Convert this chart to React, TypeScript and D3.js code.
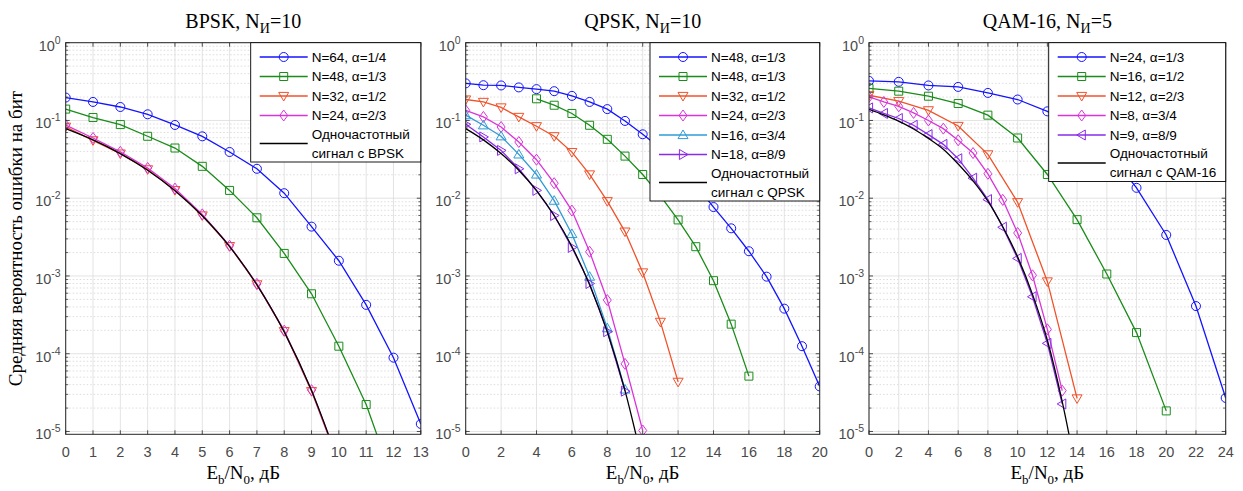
import React from 'react';
import * as d3 from 'd3';

// ---------- DATA ----------
const yMajorTicks = [1, 0.1, 0.01, 1e-3, 1e-4, 1e-5];
const yTickExp = ['0', '-1', '-2', '-3', '-4', '-5'];
const yMinorMult = [2, 3, 4, 5, 6, 7, 8, 9];

// Panel 1: BPSK
const bpskTicks = [0, 1, 2, 3, 4, 5, 6, 7, 8, 9, 10, 11, 12, 13];
const bpskX64 = [0, 1, 2, 3, 4, 5, 6, 7, 8, 9, 10, 11, 12, 13];
const bpskN64 = [0.197, 0.173, 0.149, 0.12, 0.0875, 0.0625, 0.0393, 0.0239, 0.0116, 0.00431, 0.00157, 4.25e-4, 8.9e-5, 1.25e-5];
const bpskX48 = [0, 1, 2, 3, 4, 5, 6, 7, 8, 9, 10, 11, 12];
const bpskN48 = [0.14, 0.109, 0.0885, 0.0626, 0.0442, 0.0257, 0.0126, 0.0056, 0.00195, 5.9e-4, 1.25e-4, 2.22e-5, 2.3e-6];
const bpskX32 = [0, 1, 2, 3, 4, 5, 6, 7, 8, 9, 10];
const bpskN32 = [0.083, 0.0555, 0.0375, 0.0235, 0.0127, 0.006, 0.00242, 7.8e-4, 1.95e-4, 3.3e-5, 3.9e-6];
const bpskX24 = [0, 1, 2, 3, 4, 5, 6, 7, 8, 9, 10];
const bpskN24 = [0.087, 0.0595, 0.0395, 0.0245, 0.0133, 0.0062, 0.00245, 7.9e-4, 1.98e-4, 3.4e-5, 4.0e-6];
const bpskThX = [0, 1, 2, 3, 4, 5, 6, 7, 8, 9, 10];
const bpskTh = [0.0786, 0.0563, 0.0375, 0.0229, 0.0125, 0.00595, 0.00239, 7.7e-4, 1.91e-4, 3.36e-5, 3.9e-6];

// Panel 2: QPSK
const qpskTicks = [0, 2, 4, 6, 8, 10, 12, 14, 16, 18, 20];
const qpskXa = [0, 1, 2, 3, 4, 5, 6, 7, 8, 9, 10, 11, 12, 13, 14, 15, 16, 17, 18, 19, 20];
const qpskN48a = [0.3, 0.284, 0.282, 0.266, 0.253, 0.238, 0.207, 0.173, 0.14, 0.0986, 0.0664, 0.044, 0.027, 0.0148, 0.0077, 0.0041, 0.00208, 9.8e-4, 3.8e-4, 1.25e-4, 3.8e-5];
const qpskXb = [4, 5, 6, 7, 8, 9, 10, 11, 12, 13, 14, 15, 16];
const qpskN48b = [0.19, 0.157, 0.123, 0.0867, 0.0572, 0.0348, 0.0202, 0.0107, 0.00526, 0.00238, 8.7e-4, 2.4e-4, 5.15e-5];
const qpskX32 = [0, 1, 2, 3, 4, 5, 6, 7, 8, 9, 10, 11, 12];
const qpskN32 = [0.186, 0.173, 0.147, 0.111, 0.0842, 0.0626, 0.0392, 0.0202, 0.00915, 0.00372, 0.00111, 2.57e-4, 4.35e-5];
const qpskX24 = [0, 1, 2, 3, 4, 5, 6, 7, 8, 9, 10];
const qpskN24 = [0.135, 0.111, 0.0824, 0.0528, 0.0313, 0.0156, 0.00694, 0.00205, 4.9e-4, 7.4e-5, 1.03e-5];
const qpskX16 = [0, 1, 2, 3, 4, 5, 6, 7, 8, 9];
const qpskN16 = [0.117, 0.0867, 0.0626, 0.0366, 0.0202, 0.0093, 0.00347, 9.8e-4, 2.13e-4, 3.47e-5];
const qpskX18 = [0, 1, 2, 3, 4, 5, 6, 7, 8, 9];
const qpskN18 = [0.0893, 0.0614, 0.0412, 0.0239, 0.0126, 0.006, 0.00233, 8.0e-4, 1.92e-4, 3.3e-5];
const qpskThX = [0, 1, 2, 3, 4, 5, 6, 7, 8, 9, 10];
const qpskTh = [0.0786, 0.0563, 0.0375, 0.0229, 0.0125, 0.00595, 0.00239, 7.7e-4, 1.91e-4, 3.36e-5, 3.9e-6];

// Panel 3: QAM-16
const qamTicks = [0, 2, 4, 6, 8, 10, 12, 14, 16, 18, 20, 22, 24];
const qamX24 = [0, 2, 4, 6, 8, 10, 12, 14, 16, 18, 20, 22, 24];
const qamN24 = [0.323, 0.314, 0.282, 0.27, 0.226, 0.186, 0.131, 0.085, 0.042, 0.0136, 0.00337, 4.1e-4, 2.7e-5];
const qamX16 = [0, 2, 4, 6, 8, 10, 12, 14, 16, 18, 20];
const qamN16 = [0.258, 0.238, 0.205, 0.165, 0.117, 0.0595, 0.0202, 0.0053, 0.00106, 1.87e-4, 1.84e-5];
const qamX12 = [0, 2, 4, 6, 8, 10, 12, 14];
const qamN12 = [0.211, 0.177, 0.135, 0.085, 0.0366, 0.00888, 8.5e-4, 2.66e-5];
const qamX8 = [0, 1, 2, 3, 4, 5, 6, 7, 8, 9, 10, 11, 12, 13];
const qamN8 = [0.201, 0.173, 0.152, 0.125, 0.1, 0.0785, 0.0556, 0.0381, 0.0206, 0.00953, 0.00357, 0.00102, 2.06e-4, 3.35e-5];
const qamX9 = [0, 1, 2, 3, 4, 5, 6, 7, 8, 9, 10, 11, 12, 13];
const qamN9 = [0.145, 0.123, 0.106, 0.0867, 0.0658, 0.0493, 0.0322, 0.0181, 0.0096, 0.00423, 0.00168, 5.4e-4, 1.36e-4, 2.26e-5];
const qamThX = [0, 1, 2, 3, 4, 5, 6, 7, 8, 9, 10, 11, 12, 13, 14];
const qamTh = [0.139, 0.118, 0.098, 0.0777, 0.0588, 0.0426, 0.0275, 0.0167, 0.00915, 0.00429, 0.00176, 5.8e-4, 1.49e-4, 2.42e-5, 2.7e-6];

// ---------- STYLE / LAYOUT ----------
const W = 1243;
const H = 491;
const Y_TOP = 42.7;
const Y_BOT = 434.3;
const Y_MIN = 9.2e-6;
const C_BLUE = '#1414ff';
const C_GREEN = '#1a8c1a';
const C_RED = '#f0522a';
const C_MAG = '#d936d9';
const C_CYAN = '#2f9bd6';
const C_PURP = '#8a2be8';
const AX = '#262626';
const TICKC = '#4a4a4a';
const SANS = '"Liberation Sans", Arial, Helvetica, sans-serif';
const SERIF = '"Liberation Serif", "Times New Roman", serif';

type Series = { label: string; color: string; marker: string; x: number[]; y: number[] };
type PanelCfg = {
  id: string; title: string; ni: string; x0: number; x1: number; xmax: number; ticks: number[];
  series: Series[]; thX: number[]; th: number[]; thLabel: string; legX: number; legW: number;
};

const panels: PanelCfg[] = [
  {
    id: 'p1', title: 'BPSK, N', ni: '=10', x0: 65.7, x1: 420.8, xmax: 13, ticks: bpskTicks,
    series: [
      { label: 'N=64, α=1/4', color: C_BLUE, marker: 'o', x: bpskX64, y: bpskN64 },
      { label: 'N=48, α=1/3', color: C_GREEN, marker: 's', x: bpskX48, y: bpskN48 },
      { label: 'N=32, α=1/2', color: C_RED, marker: 'v', x: bpskX32, y: bpskN32 },
      { label: 'N=24, α=2/3', color: C_MAG, marker: 'd', x: bpskX24, y: bpskN24 },
    ],
    thX: bpskThX, th: bpskTh, thLabel: 'сигнал с BPSK', legX: 250.7, legW: 170.1,
  },
  {
    id: 'p2', title: 'QPSK, N', ni: '=10', x0: 465.7, x1: 819.7, xmax: 20, ticks: qpskTicks,
    series: [
      { label: 'N=48, α=1/3', color: C_BLUE, marker: 'o', x: qpskXa, y: qpskN48a },
      { label: 'N=48, α=1/3', color: C_GREEN, marker: 's', x: qpskXb, y: qpskN48b },
      { label: 'N=32, α=1/2', color: C_RED, marker: 'v', x: qpskX32, y: qpskN32 },
      { label: 'N=24, α=2/3', color: C_MAG, marker: 'd', x: qpskX24, y: qpskN24 },
      { label: 'N=16, α=3/4', color: C_CYAN, marker: '^', x: qpskX16, y: qpskN16 },
      { label: 'N=18, α=8/9', color: C_PURP, marker: '>', x: qpskX18, y: qpskN18 },
    ],
    thX: qpskThX, th: qpskTh, thLabel: 'сигнал с QPSK', legX: 650, legW: 169.7,
  },
  {
    id: 'p3', title: 'QAM-16, N', ni: '=5', x0: 869, x1: 1225.7, xmax: 24, ticks: qamTicks,
    series: [
      { label: 'N=24, α=1/3', color: C_BLUE, marker: 'o', x: qamX24, y: qamN24 },
      { label: 'N=16, α=1/2', color: C_GREEN, marker: 's', x: qamX16, y: qamN16 },
      { label: 'N=12, α=2/3', color: C_RED, marker: 'v', x: qamX12, y: qamN12 },
      { label: 'N=8, α=3/4', color: C_MAG, marker: 'd', x: qamX8, y: qamN8 },
      { label: 'N=9, α=8/9', color: C_PURP, marker: '<', x: qamX9, y: qamN9 },
    ],
    thX: qamThX, th: qamTh, thLabel: 'сигнал с QAM-16', legX: 1048.7, legW: 177,
  },
];

function markerPath(m: string): string {
  switch (m) {
    case 'o': return 'M4.5,0A4.5,4.5 0 1,1 -4.5,0A4.5,4.5 0 1,1 4.5,0Z';
    case 's': return 'M-4,-4H4V4H-4Z';
    case 'v': return 'M-5,-3.6H5L0,5Z';
    case '^': return 'M-5,3.6H5L0,-5Z';
    case '>': return 'M-3.6,-5V5L5,0Z';
    case '<': return 'M3.6,-5V5L-5,0Z';
    case 'd': return 'M0,-5.5L4,0L0,5.5L-4,0Z';
    default: return '';
  }
}

function Panel({ cfg }: { cfg: PanelCfg }) {
  const x = d3.scaleLinear().domain([0, cfg.xmax]).range([cfg.x0, cfg.x1]);
  const y = d3.scaleLog().domain([Y_MIN, 1]).range([Y_BOT, Y_TOP]);
  const line = d3.line<[number, number]>().x((d) => x(d[0])).y((d) => y(d[1]));
  const smooth = d3.line<[number, number]>().x((d) => x(d[0])).y((d) => y(d[1])).curve(d3.curveMonotoneX);
  const minor: number[] = [];
  yMajorTicks.forEach((t) => {
    if (t < 1) yMinorMult.forEach((m) => minor.push(t * m));
  });
  const minorIn = minor.filter((v) => v >= Y_MIN && v <= 1);
  const minorAll = [...minorIn];
  yMinorMult.forEach((m) => { const v = 1e-6 * m; if (v >= Y_MIN) minorAll.push(v); });
  const cx = (cfg.x0 + cfg.x1) / 2;
  const cy = (Y_TOP + Y_BOT) / 2;
  const rowY = (i: number) => Y_TOP + 14.3 + i * 19.5;
  const n = cfg.series.length;
  const legH = 14.3 + (n + 1) * 19.5 + 7.5;
  const thPts: [number, number][] = cfg.thX.map((v, i) => [v, cfg.th[i]]);
  return (
    <g>
      <defs>
        <clipPath id={`clip-${cfg.id}`}>
          <rect x={cfg.x0} y={Y_TOP} width={cfg.x1 - cfg.x0} height={Y_BOT - Y_TOP} />
        </clipPath>
      </defs>
      {/* grid */}
      <g>
        {minorAll.map((v, i) => (
          <line key={'mg' + i} x1={cfg.x0} x2={cfg.x1} y1={y(v)} y2={y(v)} stroke="#cfcfcf" strokeWidth={0.7} strokeDasharray="1.5,2" />
        ))}
        {cfg.ticks.map((t) => (
          <line key={'gx' + t} x1={x(t)} x2={x(t)} y1={Y_TOP} y2={Y_BOT} stroke="#dcdcdc" strokeWidth={0.8} />
        ))}
        {yMajorTicks.map((t) => (
          <line key={'gy' + t} x1={cfg.x0} x2={cfg.x1} y1={y(t)} y2={y(t)} stroke="#dcdcdc" strokeWidth={0.8} />
        ))}
      </g>
      {/* data */}
      <g clipPath={`url(#clip-${cfg.id})`}>
        {cfg.series.map((s, si) => {
          const pts: [number, number][] = s.x.map((v, i) => [v, s.y[i]]);
          return (
            <g key={'s' + si}>
              <path d={line(pts) || ''} fill="none" stroke={s.color} strokeWidth={1.3} />
              {pts.map((p, i) => (
                <path key={i} d={markerPath(s.marker)} transform={`translate(${x(p[0])},${y(p[1])})`} fill="none" stroke={s.color} strokeWidth={1} />
              ))}
            </g>
          );
        })}
        <path d={smooth(thPts) || ''} fill="none" stroke="#000" strokeWidth={1.3} />
      </g>
      {/* axes box */}
      <rect x={cfg.x0} y={Y_TOP} width={cfg.x1 - cfg.x0} height={Y_BOT - Y_TOP} fill="none" stroke={AX} strokeWidth={1} />
      {/* ticks */}
      {cfg.ticks.map((t) => (
        <g key={'tx' + t}>
          <line x1={x(t)} x2={x(t)} y1={Y_BOT} y2={Y_BOT - 4} stroke={AX} strokeWidth={0.8} />
          <line x1={x(t)} x2={x(t)} y1={Y_TOP} y2={Y_TOP + 4} stroke={AX} strokeWidth={0.8} />
          <text x={x(t)} y={Y_BOT + 22.5} textAnchor="middle" fontFamily={SANS} fontSize={14.5} fill={TICKC}>{t}</text>
        </g>
      ))}
      {yMajorTicks.map((t, i) => (
        <g key={'ty' + t}>
          <line x1={cfg.x0} x2={cfg.x0 + 4} y1={y(t)} y2={y(t)} stroke={AX} strokeWidth={0.8} />
          <line x1={cfg.x1} x2={cfg.x1 - 4} y1={y(t)} y2={y(t)} stroke={AX} strokeWidth={0.8} />
          <text x={cfg.x0 - 5} y={y(t) + 8} textAnchor="end" fontFamily={SANS} fontSize={14.5} fill={TICKC}>
            10<tspan fontSize={10.5} dy={-7}>{yTickExp[i]}</tspan>
          </text>
        </g>
      ))}
      {minorIn.map((v, i) => (
        <g key={'my' + i}>
          <line x1={cfg.x0} x2={cfg.x0 + 2.5} y1={y(v)} y2={y(v)} stroke={AX} strokeWidth={0.7} />
          <line x1={cfg.x1} x2={cfg.x1 - 2.5} y1={y(v)} y2={y(v)} stroke={AX} strokeWidth={0.7} />
        </g>
      ))}
      {/* title */}
      <text x={cx} y={28.3} textAnchor="middle" fontFamily={SERIF} fontSize={20} fill="#000">
        {cfg.title}
        <tspan fontSize={14} dy={5}>И</tspan>
        <tspan dy={-5}>{cfg.ni}</tspan>
      </text>
      {/* x label */}
      <text x={cx} y={479} textAnchor="middle" fontFamily={SERIF} fontSize={19} fill="#000">
        E<tspan fontSize={13} dy={5}>b</tspan>
        <tspan dy={-5}>/N</tspan>
        <tspan fontSize={13} dy={5}>0</tspan>
        <tspan dy={-5}>, дБ</tspan>
      </text>
      {/* legend */}
      <g>
        <rect x={cfg.legX} y={Y_TOP} width={cfg.legW} height={legH} fill="#fff" stroke="#000" strokeWidth={0.9} />
        {cfg.series.map((s, i) => (
          <g key={'lg' + i}>
            <line x1={cfg.legX + 9} x2={cfg.legX + 57} y1={rowY(i)} y2={rowY(i)} stroke={s.color} strokeWidth={1.3} />
            <path d={markerPath(s.marker)} transform={`translate(${cfg.legX + 33},${rowY(i)})`} fill="none" stroke={s.color} strokeWidth={1} />
            <text x={cfg.legX + 61} y={rowY(i)} dy="0.36em" fontFamily={SANS} fontSize={13.5} fill="#000">{s.label}</text>
          </g>
        ))}
        <line x1={cfg.legX + 9} x2={cfg.legX + 57} y1={rowY(n) + 8.5} y2={rowY(n) + 8.5} stroke="#000" strokeWidth={1.3} />
        <text x={cfg.legX + 61} y={rowY(n) - 1} dy="0.36em" fontFamily={SANS} fontSize={13.5} fill="#000">Одночастотный</text>
        <text x={cfg.legX + 61} y={rowY(n) + 18} dy="0.36em" fontFamily={SANS} fontSize={13.5} fill="#000">{cfg.thLabel}</text>
      </g>
    </g>
  );
}

export default function App() {
  return (
    <div style={{ position: 'absolute', left: 0, top: 0, width: W, height: H, background: '#fff' }}>
      <svg width={W} height={H} viewBox={`0 0 ${W} ${H}`} style={{ display: 'block' }}>
        <rect x={0} y={0} width={W} height={H} fill="#fff" />
        {panels.map((p) => <Panel key={p.id} cfg={p} />)}
        <text transform={`translate(21.5,${(Y_TOP + Y_BOT) / 2}) rotate(-90)`} textAnchor="middle" fontFamily={SERIF} fontSize={19} fill="#000">
          Средняя вероятность ошибки на бит
        </text>
      </svg>
    </div>
  );
}
